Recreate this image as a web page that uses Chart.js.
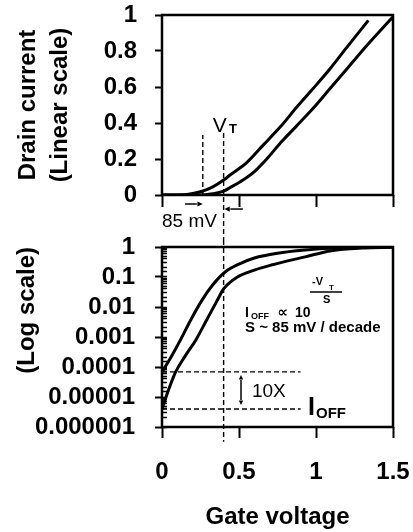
<!DOCTYPE html>
<html>
<head>
<meta charset="utf-8">
<script src="https://cdn.jsdelivr.net/npm/chart.js@4.4.0/dist/chart.umd.min.js"></script>
<style>
  body { margin: 0; background: #fff; }
  #wrap { position: relative; width: 413px; height: 532px; }
  canvas { position: absolute; left: 0; }
  #linChart { top: 0; }
  #logChart { top: 225px; }
</style>
</head>
<body>
<div id="wrap">
  <canvas id="linChart" width="413" height="240"></canvas>
  <canvas id="logChart" width="413" height="307"></canvas>
</div>
<script>
// values (gate voltage in V, drain current normalised)
const linGateA = [0, 0.15, 0.2, 0.266, 0.33, 0.4, 0.44, 0.55, 0.66, 0.77, 0.877, 0.98, 1.09, 1.2, 1.34];
const linDrainA = [0, 0.002, 0.008, 0.022, 0.045, 0.083, 0.11, 0.18, 0.28, 0.38, 0.49, 0.59, 0.7, 0.82, 0.97];
const linGateB = [0, 0.28, 0.33, 0.4, 0.45, 0.526, 0.6, 0.68, 0.77, 0.87, 0.98, 1.09, 1.2, 1.34, 1.5];
const linDrainB = [0, 0.002, 0.007, 0.022, 0.045, 0.083, 0.13, 0.2, 0.29, 0.38, 0.48, 0.59, 0.7, 0.84, 0.99];

const logGateA = [0, 0.06, 0.12, 0.19, 0.26, 0.33, 0.41, 0.5, 0.6, 0.75, 0.93, 1.12, 1.3, 1.5];
const logDrainA = [6.8e-5, 2.2e-4, 8e-4, 4e-3, 0.017, 0.055, 0.147, 0.27, 0.43, 0.62, 0.79, 0.92, 0.97, 1.0];
const logGateB = [0, 0.04, 0.085, 0.15, 0.22, 0.29, 0.36, 0.4, 0.49, 0.6, 0.71, 0.93, 1.1, 1.3, 1.5];
const logDrainB = [4e-6, 1.6e-5, 6.3e-5, 2.3e-4, 8e-4, 3.7e-3, 0.017, 0.04, 0.1, 0.17, 0.25, 0.47, 0.75, 0.92, 0.98];

// reference lines
const vtVoltage = 0.4;
const shiftedVoltage = 0.265;
const ioffLevels = [6.9e-5, 4e-6];
const ioffLineEnd = 0.9;

const linTickLabels = ['0', '0.2', '0.4', '0.6', '0.8', '1'];
const logTickLabels = ['0.000001', '0.00001', '0.0001', '0.001', '0.01', '0.1', '1'];
const gateTickLabels = ['0', '0.5', '1', '1.5'];

Chart.defaults.font.family = '"Liberation Sans", Arial, sans-serif';
Chart.defaults.color = '#000';

const pts = (xs, ys) => xs.map((x, i) => ({ x, y: ys[i] }));
const curve = (data) => ({ data, borderColor: '#000', borderWidth: 3, pointRadius: 0, cubicInterpolationMode: 'monotone', fill: false });
const dashed = (data) => ({ data, borderColor: '#000', borderWidth: 1.4, borderDash: [5, 3], pointRadius: 0, fill: false, clip: false });

const isDecade = (v) => Math.abs(Math.log10(v) - Math.round(Math.log10(v))) < 1e-6;

// fixed axis sizes, and no extra room for labels hanging over the ends
const fixSize = (w, h) => (s) => {
  if (w !== null) s.width = w;
  if (h !== null) s.height = h;
  s.paddingTop = s.paddingBottom = s.paddingLeft = s.paddingRight = 0;
};

function arrow(ctx, x1, y1, x2, y2, head) {
  const a = Math.atan2(y2 - y1, x2 - x1);
  ctx.beginPath();
  ctx.moveTo(x1, y1);
  ctx.lineTo(x2 - Math.cos(a) * head, y2 - Math.sin(a) * head);
  ctx.stroke();
  ctx.beginPath();
  ctx.moveTo(x2, y2);
  ctx.lineTo(x2 - head * Math.cos(a - 0.45), y2 - head * Math.sin(a - 0.45));
  ctx.lineTo(x2 - head * Math.cos(a + 0.45), y2 - head * Math.sin(a + 0.45));
  ctx.closePath();
  ctx.fill();
}

const frame = {
  id: 'frame',
  afterDatasetsDraw(chart) {
    const { ctx, chartArea: a } = chart;
    ctx.save();
    ctx.lineWidth = 2.5;
    ctx.strokeStyle = '#000';
    ctx.strokeRect(a.left, a.top, a.right - a.left, a.bottom - a.top);
    ctx.restore();
  }
};

const linNotes = {
  id: 'linNotes',
  afterDraw(chart) {
    const { ctx, scales: { x, y } } = chart;
    ctx.save();
    ctx.fillStyle = '#000';
    ctx.strokeStyle = '#000';
    ctx.lineWidth = 1.5;
    ctx.font = '21px "Liberation Sans"';
    ctx.fillText('V', x.getPixelForValue(0.33), y.getPixelForValue(0.35));
    ctx.font = 'bold 13px "Liberation Sans"';
    ctx.fillText('T', x.getPixelForValue(0.435), y.getPixelForValue(0.345));
    ctx.font = '19px "Liberation Sans"';
    ctx.fillText('85 mV', x.getPixelForValue(0), y.getPixelForValue(-0.178));
    arrow(ctx, x.getPixelForValue(0.15), y.getPixelForValue(-0.05), x.getPixelForValue(shiftedVoltage), y.getPixelForValue(-0.05), 6);
    arrow(ctx, x.getPixelForValue(0.525), y.getPixelForValue(-0.078), x.getPixelForValue(vtVoltage + 0.005), y.getPixelForValue(-0.078), 6);
    ctx.restore();
  }
};

const logNotes = {
  id: 'logNotes',
  afterDraw(chart) {
    const { ctx, scales: { x, y } } = chart;
    const px = (v) => x.getPixelForValue(v);
    const py = (v) => y.getPixelForValue(v);
    ctx.save();
    ctx.fillStyle = '#000';
    ctx.strokeStyle = '#000';
    ctx.font = 'bold 14px "Liberation Sans"';
    ctx.fillText('I', px(0.539), py(4.7e-3));
    ctx.font = 'bold 9px "Liberation Sans"';
    ctx.fillText('OFF', px(0.578), py(3.98e-3));
    ctx.font = 'bold 15px "DejaVu Sans"';
    ctx.fillText('\u221D', px(0.75), py(4.7e-3));
    ctx.font = 'bold 14px "Liberation Sans"';
    ctx.fillText('10', px(0.864), py(4.7e-3));
    ctx.font = 'bold 11px "Liberation Sans"';
    ctx.fillText('-V', px(0.974), py(0.054));
    ctx.font = 'bold 8px "Liberation Sans"';
    ctx.fillText('T', px(1.084), py(0.037));
    ctx.font = 'bold 11px "Liberation Sans"';
    ctx.fillText('S', px(1.045), py(0.0135));
    ctx.lineWidth = 1.3;
    ctx.beginPath();
    ctx.moveTo(px(0.961), py(0.0316));
    ctx.lineTo(px(1.169), py(0.0316));
    ctx.stroke();
    ctx.font = 'bold 15px "Liberation Sans"';
    ctx.fillText('S ~ 85 mV / decade', px(0.539), py(1.47e-3));
    ctx.font = '19px "Liberation Sans"';
    ctx.fillText('10X', px(0.584), py(1e-5));
    ctx.lineWidth = 1.5;
    arrow(ctx, px(0.513), py(1.6e-5), px(0.513), py(5.4e-5), 5);
    arrow(ctx, px(0.513), py(1.6e-5), px(0.513), py(5.4e-6), 5);
    ctx.font = 'bold 25px "Liberation Sans"';
    ctx.fillText('I', px(0.948), py(2.5e-6));
    ctx.font = 'bold 15px "Liberation Sans"';
    ctx.fillText('OFF', px(1.0), py(2e-6));
    ctx.restore();
  }
};

const tickGrid = (len) => ({ display: true, drawOnChartArea: false, drawTicks: true, tickLength: len, tickWidth: 2, tickColor: '#000' });

new Chart(document.getElementById('linChart'), {
  type: 'line',
  data: {
    datasets: [
      curve(pts(linGateA, linDrainA)),
      curve(pts(linGateB, linDrainB)),
      dashed([{ x: shiftedVoltage, y: 0 }, { x: shiftedVoltage, y: 0.333 }]),
      dashed([{ x: vtVoltage, y: 0.344 }, { x: vtVoltage, y: -0.25 }])
    ]
  },
  options: {
    responsive: false,
    animation: false,
    layout: { padding: { top: 15, right: 20, left: 0, bottom: 0 } },
    plugins: { legend: { display: false }, tooltip: { enabled: false } },
    scales: {
      x: {
        type: 'linear', min: 0, max: 1.5,
        ticks: { stepSize: 0.5, display: false },
        grid: tickGrid(12),
        border: { display: false },
        afterFit: fixSize(null, 45)
      },
      y: {
        min: 0, max: 1,
        ticks: { stepSize: 0.2, padding: 18, font: { size: 24, weight: 'bold' }, callback: (v, i) => linTickLabels[i] },
        grid: tickGrid(7),
        border: { display: false },
        title: { display: true, text: ['Drain current', '(Linear scale)'], font: { size: 24, weight: 'bold', lineHeight: 1.333 }, padding: { top: 12, bottom: 0 } },
        afterFit: fixSize(162, null)
      }
    }
  },
  plugins: [frame, linNotes]
});

new Chart(document.getElementById('logChart'), {
  type: 'line',
  data: {
    datasets: [
      curve(pts(logGateA, logDrainA)),
      curve(pts(logGateB, logDrainB)),
      dashed([{ x: vtVoltage, y: 1.7 }, { x: vtVoltage, y: 3.2e-7 }]),
      dashed([{ x: 0, y: ioffLevels[0] }, { x: ioffLineEnd, y: ioffLevels[0] }]),
      dashed([{ x: 0, y: ioffLevels[1] }, { x: ioffLineEnd, y: ioffLevels[1] }])
    ]
  },
  options: {
    responsive: false,
    animation: false,
    layout: { padding: { top: 22, right: 20, left: 0, bottom: 0 } },
    plugins: { legend: { display: false }, tooltip: { enabled: false } },
    scales: {
      x: {
        type: 'linear', min: 0, max: 1.5,
        ticks: { stepSize: 0.5, padding: 20, font: { size: 24, weight: 'bold' }, callback: (v, i) => gateTickLabels[i] },
        grid: tickGrid(11),
        border: { display: false },
        title: { display: true, text: 'Gate voltage', font: { size: 24, weight: 'bold' }, padding: { top: 0, bottom: 0 } },
        afterFit: fixSize(null, 105)
      },
      y: {
        type: 'logarithmic', min: 1e-6, max: 1, weight: 1,
        ticks: {
          autoSkip: false, padding: 20, font: { size: 24, weight: 'bold' },
          callback: (v) => isDecade(v) ? logTickLabels[Math.round(Math.log10(v)) + 6] : ''
        },
        grid: {
          display: true, drawOnChartArea: false, drawTicks: true, tickLength: 7, tickWidth: 2,
          tickColor: (c) => (c.tick && isDecade(c.tick.value)) ? '#000' : 'rgba(0,0,0,0)'
        },
        border: { display: false },
        title: { display: true, text: '(Log scale)', align: 'end', font: { size: 24, weight: 'bold' }, padding: { top: 12.6, bottom: 0 } },
        afterFit: fixSize(162, null)
      },
      yMinor: {
        type: 'logarithmic', min: 1e-6, max: 1, position: 'left', weight: 0,
        ticks: { display: false, autoSkip: false },
        grid: { display: true, drawOnChartArea: false, drawTicks: true, tickLength: -5, tickWidth: 1.5, tickColor: '#000' },
        border: { display: false },
        afterFit: fixSize(0, null)
      }
    }
  },
  plugins: [frame, logNotes]
});
</script>
</body>
</html>
